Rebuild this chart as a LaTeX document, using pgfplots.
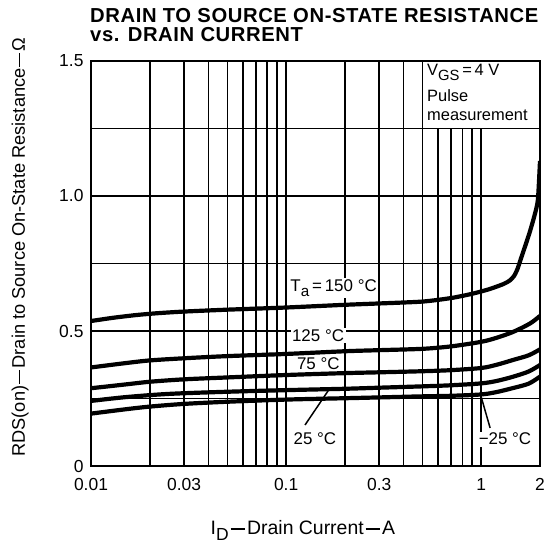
\documentclass[border=0pt]{standalone}
\usepackage{fontspec}
\setmainfont{Liberation Sans}
\newfontfamily\titlefont[LetterSpace=3]{Liberation Sans Bold}
\usepackage{graphicx}
\usepackage{pgfplots}
\pgfplotsset{compat=1.18}
\newcommand\sub[1]{\raisebox{-0.3em}{\scalebox{0.9}{#1}}}
\newcommand\dash{\kern0.1em\rule[0.27em]{0.75em}{0.07em}\kern0.1em}
\newcommand\lbl{\fontsize{17}{17}\selectfont}
\begin{document}
\begin{tikzpicture}
\useasboundingbox (0,0) rectangle (546bp,544bp);
\begin{axis}[
  at={(91bp,78bp)}, anchor=south west,
  scale only axis, width=449bp, height=405bp,
  xmode=log, xmin=0.01, xmax=2, ymin=0, ymax=1.5,
  xtick={0.01,0.03,0.1,0.3,1,2}, xticklabels={0.01,0.03,0.1,0.3,1,2},
  minor xtick={0.02,0.04,0.05,0.06,0.07,0.08,0.09,0.2,0.4,0.5,0.6,0.7,0.8,0.9},
  ytick={0,0.5,1,1.5}, yticklabels={0,0.5,1.0,1.5},
  minor ytick={0.25,0.75,1.25},
  grid=both,
  major grid style={black, line width=1.7bp},
  minor grid style={black, line width=1.7bp},
  major tick length=0, minor tick length=0,
  axis line style={line width=2.8bp},
  /pgf/number format/assume math mode=true,
  ticklabel style={font=\fontsize{17.5}{17.5}\selectfont},
  xticklabel style={anchor=base, yshift=-24bp},
  yticklabel style={anchor=east, xshift=-4bp},
  xlabel={I\sub{D}\dash Drain Current\dash A},
  xlabel style={at={(rel axis cs:0.472,-0.170)}, anchor=base, inner sep=0, font=\fontsize{19.5}{19.5}\selectfont},
  ylabel={RDS(on)\dash Drain to Source On-State Resistance\dash Ω},
  ylabel style={at={(rel axis cs:-0.147,0.5407)}, anchor=base, inner sep=0, font=\fontsize{18.3}{18.3}\selectfont},
]
\addplot[black, line width=4.2bp, smooth, tension=0.4] coordinates {
(0.01,0.537) (0.013,0.549) (0.017,0.559) (0.022,0.566) (0.03,0.572) (0.05,0.579) (0.1,0.587) (0.2,0.597) (0.3,0.602) (0.5,0.609) (0.7,0.622) (0.9,0.638) (1.1,0.655) (1.3,0.674) (1.4,0.687) (1.47,0.703) (1.53,0.728) (1.6,0.77) (1.68,0.815) (1.77,0.865) (1.87,0.925) (1.95,0.985) (2.0,1.13)};
\addplot[black, line width=4.2bp, smooth, tension=0.5] coordinates {
(0.01,0.365) (0.015,0.381) (0.02,0.391) (0.03,0.399) (0.05,0.407) (0.1,0.415) (0.2,0.425) (0.3,0.429) (0.5,0.434) (0.7,0.443) (1,0.46) (1.2,0.475) (1.46,0.497) (1.78,0.528) (2,0.556)};
\addplot[black, line width=4.2bp, smooth, tension=0.5] coordinates {
(0.01,0.288) (0.015,0.302) (0.02,0.312) (0.03,0.321) (0.05,0.328) (0.1,0.337) (0.2,0.344) (0.3,0.347) (0.5,0.351) (0.7,0.355) (1,0.363) (1.2,0.375) (1.46,0.393) (1.75,0.41) (2,0.432)};
\addplot[black, line width=4.2bp, smooth, tension=0.5] coordinates {
(0.01,0.241) (0.015,0.255) (0.025,0.267) (0.05,0.275) (0.1,0.281) (0.2,0.286) (0.3,0.29) (0.5,0.295) (0.7,0.299) (1,0.306) (1.2,0.315) (1.46,0.331) (1.75,0.35) (2,0.374)};
\addplot[black, line width=4.2bp, smooth, tension=0.5] coordinates {
(0.01,0.194) (0.015,0.21) (0.02,0.22) (0.03,0.23) (0.05,0.238) (0.1,0.246) (0.2,0.251) (0.3,0.254) (0.5,0.258) (0.7,0.26) (1,0.265) (1.2,0.274) (1.46,0.289) (1.75,0.305) (2,0.331)};
% blank box top right
\fill[white] (axis cs:0.505,1.253) rectangle (axis cs:1.965,1.4945);
\node[anchor=base west, inner sep=0, font=\fontsize{16.5}{16.5}\selectfont] at (axis cs:0.527,1.4456) {V\sub{GS}\,=\,4 V};
\node[anchor=base west, inner sep=0, font=\fontsize{16.5}{16.5}\selectfont] at (axis cs:0.527,1.349) {Pulse};
\node[anchor=base west, inner sep=0, font=\fontsize{16.5}{16.5}\selectfont] at (axis cs:0.527,1.281) {measurement};
% curve labels
\node[anchor=base west, fill=white, inner sep=1.5bp, xshift=-1.5bp, font=\lbl] at (axis cs:0.105,0.6456) {T\sub{a}\,=\,150 °C};
\node[anchor=base west, fill=white, inner sep=1.5bp, xshift=-1.5bp, font=\lbl] at (axis cs:0.107,0.460) {125 °C};
\node[anchor=base west, fill=white, inner sep=1.5bp, xshift=-1.5bp, font=\lbl] at (axis cs:0.1135,0.359) {75 °C};
\node[anchor=base west, fill=white, inner sep=1.5bp, xshift=-1.5bp, font=\lbl] at (axis cs:0.109,0.078) {25 °C};
\node[anchor=base west, fill=white, inner sep=1.5bp, xshift=-1.5bp, font=\lbl] at (axis cs:0.969,0.078) {−25 °C};
\draw[black, line width=1.5bp] (axis cs:0.125,0.152) -- (axis cs:0.164,0.278);
\draw[black, line width=1.5bp] (axis cs:1.11,0.141) -- (axis cs:0.989,0.267);
\end{axis}
\node[anchor=base west, inner sep=0, font=\fontsize{20.3}{20.3}\titlefont] at (90bp,521.4bp) {DRAIN TO SOURCE ON-STATE RESISTANCE};
\node[anchor=base west, inner sep=0, font=\fontsize{20.3}{20.3}\titlefont] at (90bp,502.3bp) {vs. DRAIN CURRENT};
\end{tikzpicture}
\end{document}
